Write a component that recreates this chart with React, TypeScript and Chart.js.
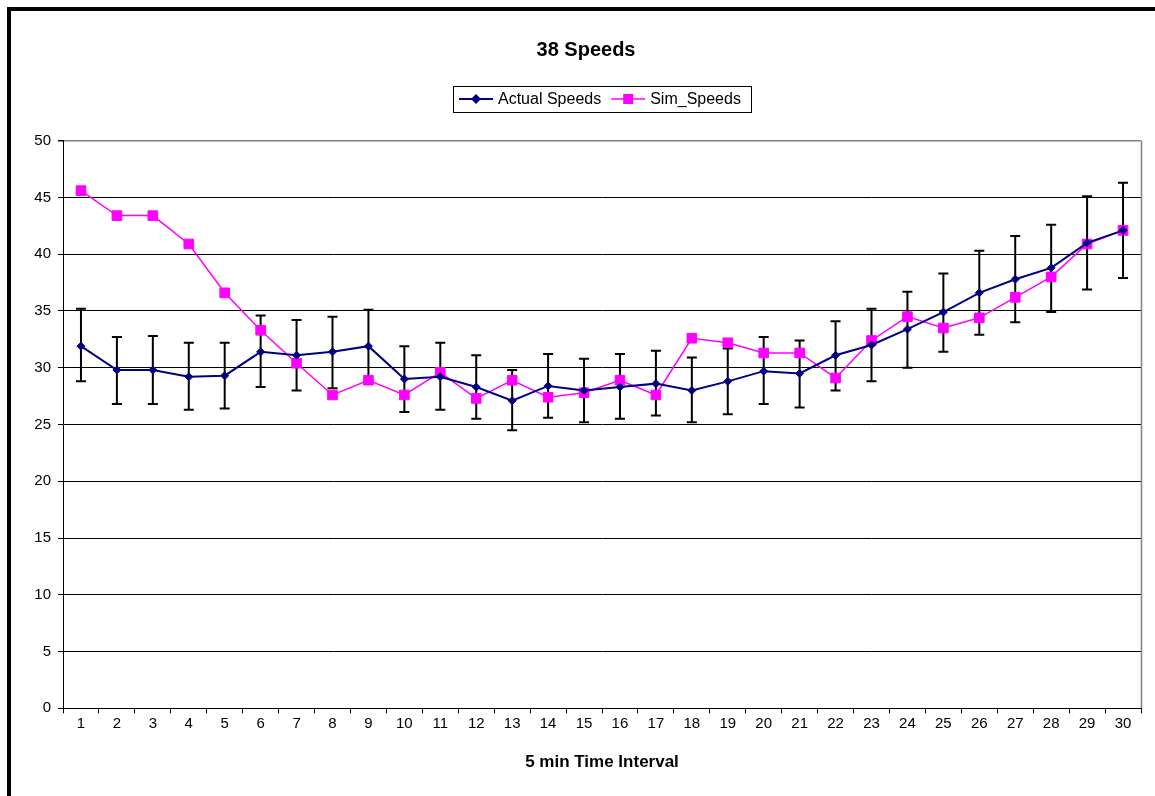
import { useEffect, useRef } from 'react';
import { Chart, registerables } from 'chart.js';

Chart.register(...registerables);

const FONT = "'Liberation Sans', Arial, Helvetica, sans-serif";

// 5-minute intervals on the x axis
const intervals = [
  '1', '2', '3', '4', '5', '6', '7', '8', '9', '10',
  '11', '12', '13', '14', '15', '16', '17', '18', '19', '20',
  '21', '22', '23', '24', '25', '26', '27', '28', '29', '30',
];

// Observed speeds with their error-bar limits
const actualSpeeds = [
  31.9, 29.8, 29.8, 29.2, 29.3, 31.4, 31.1, 31.4, 31.9, 29.0,
  29.2, 28.3, 27.1, 28.4, 28.0, 28.3, 28.6, 28.0, 28.8, 29.7,
  29.5, 31.1, 32.0, 33.4, 34.9, 36.6, 37.8, 38.8, 41.0, 42.1,
];
const actualUpper = [
  35.2, 32.7, 32.8, 32.2, 32.2, 34.6, 34.2, 34.5, 35.1, 31.9,
  32.2, 31.1, 29.8, 31.2, 30.8, 31.2, 31.5, 30.9, 31.7, 32.7,
  32.4, 34.1, 35.2, 36.7, 38.3, 40.3, 41.6, 42.6, 45.1, 46.3,
];
const actualLower = [
  28.8, 26.8, 26.8, 26.3, 26.4, 28.3, 28.0, 28.2, 28.8, 26.1,
  26.3, 25.5, 24.5, 25.6, 25.2, 25.5, 25.8, 25.2, 25.9, 26.8,
  26.5, 28.0, 28.8, 30.0, 31.4, 32.9, 34.0, 34.9, 36.9, 37.9,
];

// Simulated speeds
const simSpeeds = [
  45.6, 43.4, 43.4, 40.9, 36.6, 33.3, 30.4, 27.6, 28.9, 27.6,
  29.6, 27.3, 28.9, 27.4, 27.8, 28.9, 27.6, 32.6, 32.2, 31.3,
  31.3, 29.1, 32.4, 34.5, 33.5, 34.4, 36.2, 38.0, 40.9, 42.1,
];

const yTicks = [0, 5, 10, 15, 20, 25, 30, 35, 40, 45, 50];

const NAVY = '#000080';
const MAGENTA = '#FF00FF';

// Vertical error bars with caps for the observed series
const errorBars = {
  id: 'errorBars',
  beforeDatasetsDraw(chart: any) {
    const { ctx } = chart;
    const xs = chart.scales.x;
    const ys = chart.scales.y;
    ctx.save();
    ctx.strokeStyle = '#000';
    ctx.lineWidth = 2;
    const cap = 5;
    for (let i = 0; i < actualSpeeds.length; i++) {
      const x = xs.getPixelForValue(i);
      const top = ys.getPixelForValue(actualUpper[i]);
      const bottom = ys.getPixelForValue(actualLower[i]);
      ctx.beginPath();
      ctx.moveTo(x, top);
      ctx.lineTo(x, bottom);
      ctx.moveTo(x - cap, top);
      ctx.lineTo(x + cap, top);
      ctx.moveTo(x - cap, bottom);
      ctx.lineTo(x + cap, bottom);
      ctx.stroke();
    }
    ctx.restore();
  },
};

// Grey right edge of the plot area
const plotFrame = {
  id: 'plotFrame',
  beforeDatasetsDraw(chart: any) {
    const { ctx, chartArea } = chart;
    ctx.save();
    ctx.strokeStyle = '#808080';
    ctx.lineWidth = 1.5;
    const x = Math.round(chartArea.right) + 0.5;
    ctx.beginPath();
    ctx.moveTo(x, chartArea.top);
    ctx.lineTo(x, chartArea.bottom);
    ctx.stroke();
    ctx.restore();
  },
};

function drawMarker(ctx: CanvasRenderingContext2D, style: string, x: number, y: number, color: string) {
  ctx.fillStyle = color;
  ctx.beginPath();
  if (style === 'rectRot') {
    const r = 5;
    ctx.moveTo(x - r, y);
    ctx.lineTo(x, y - r);
    ctx.lineTo(x + r, y);
    ctx.lineTo(x, y + r);
    ctx.closePath();
  } else {
    const s = 5;
    ctx.rect(x - s, y - s, 2 * s, 2 * s);
  }
  ctx.fill();
}

// Boxed legend centred over the plot area
const boxedLegend = {
  id: 'boxedLegend',
  afterDraw(chart: any) {
    const { ctx, chartArea } = chart;
    const datasets = chart.data.datasets;
    ctx.save();
    ctx.font = `16px ${FONT}`;
    const sample = 34;
    const padL = 6;
    const gapText = 5;
    const gapItem = 10;
    const padR = 10;
    const widths = datasets.map((d: any) => ctx.measureText(d.label).width);
    let total = padL + padR;
    widths.forEach((w: number, i: number) => {
      total += sample + gapText + w + (i < widths.length - 1 ? gapItem : 0);
    });
    const cx = (chartArea.left + chartArea.right) / 2;
    const left = Math.round(cx - total / 2);
    const top = 75;
    const h = 26;
    ctx.fillStyle = '#fff';
    ctx.fillRect(left, top, total, h);
    ctx.strokeStyle = '#000';
    ctx.lineWidth = 1;
    ctx.strokeRect(left + 0.5, top + 0.5, Math.round(total), h);
    const cy = top + h / 2;
    let x = left + padL;
    datasets.forEach((d: any, i: number) => {
      ctx.strokeStyle = d.borderColor;
      ctx.lineWidth = d.borderWidth;
      ctx.beginPath();
      ctx.moveTo(x, cy);
      ctx.lineTo(x + sample, cy);
      ctx.stroke();
      drawMarker(ctx, d.pointStyle, x + sample / 2, cy, d.borderColor);
      x += sample + gapText;
      ctx.fillStyle = '#000';
      ctx.textAlign = 'left';
      ctx.textBaseline = 'middle';
      ctx.fillText(d.label, x, cy + 1);
      x += widths[i] + gapItem;
    });
    ctx.restore();
  },
};

export default function App() {
  const canvasRef = useRef<HTMLCanvasElement | null>(null);

  useEffect(() => {
    if (!canvasRef.current) return;
    Chart.defaults.font.family = FONT;
    Chart.defaults.color = '#000';

    const chart = new Chart(canvasRef.current, {
      type: 'line',
      data: {
        labels: intervals,
        datasets: [
          {
            label: 'Actual Speeds',
            data: actualSpeeds,
            borderColor: NAVY,
            backgroundColor: NAVY,
            borderWidth: 2,
            pointStyle: 'rectRot',
            pointRadius: 4,
            pointBorderWidth: 1,
            pointBackgroundColor: NAVY,
            pointBorderColor: NAVY,
            tension: 0,
          },
          {
            label: 'Sim_Speeds',
            data: simSpeeds,
            borderColor: MAGENTA,
            backgroundColor: MAGENTA,
            borderWidth: 1.5,
            pointStyle: 'rect',
            pointRadius: 6.8,
            pointBorderWidth: 1,
            pointBackgroundColor: MAGENTA,
            pointBorderColor: MAGENTA,
            tension: 0,
          },
        ],
      },
      options: {
        responsive: false,
        animation: false,
        events: [],
        layout: { padding: { left: 20, right: 14, top: 0, bottom: 0 } },
        plugins: {
          legend: { display: false },
          tooltip: { enabled: false },
          title: {
            display: true,
            text: '38 Speeds',
            color: '#000',
            font: { family: FONT, size: 20, weight: 'bold', lineHeight: 1.2 },
            padding: { top: 27, bottom: 78.7 },
          },
        },
        scales: {
          x: {
            type: 'category',
            offset: true,
            afterFit(scale: any) {
              scale.height = 87.7;
            },
            grid: {
              display: true,
              offset: true,
              drawOnChartArea: false,
              drawTicks: true,
              tickLength: 5,
              color: '#000',
              tickColor: '#000',
            },
            border: { display: true, color: '#000', width: 1 },
            ticks: {
              autoSkip: false,
              maxRotation: 0,
              padding: 2,
              color: '#000',
              font: { family: FONT, size: 15 },
            },
            title: {
              display: true,
              text: '5 min Time Interval',
              color: '#000',
              font: { family: FONT, size: 17, weight: 'bold', lineHeight: 1.2 },
              padding: { top: 4, bottom: 23.8 },
            },
          },
          y: {
            min: 0,
            max: 50,
            afterFit(scale: any) {
              scale.width = 32;
            },
            afterBuildTicks(scale: any) {
              scale.ticks = yTicks.map((v) => ({ value: v }));
            },
            grid: {
              color: (c: any) => (c.tick && c.tick.value === 50 ? '#808080' : '#000'),
              lineWidth: (c: any) => (c.tick && c.tick.value === 50 ? 1.5 : 1),
              tickLength: 5,
              tickColor: '#000',
            },
            border: { display: true, color: '#000', width: 1 },
            ticks: {
              padding: 7,
              color: '#000',
              font: { family: FONT, size: 15 },
            },
          },
        },
      },
      plugins: [errorBars, plotFrame, boxedLegend],
    } as any);

    return () => chart.destroy();
  }, []);

  return (
    <div
      style={{
        position: 'fixed',
        left: 7,
        top: 7,
        width: 1148,
        height: 789,
        boxSizing: 'border-box',
        borderTop: '4px solid #000',
        borderLeft: '4px solid #000',
        background: '#fff',
        overflow: 'hidden',
      }}
    >
      <canvas ref={canvasRef} width={1144} height={785} style={{ display: 'block' }} />
    </div>
  );
}
